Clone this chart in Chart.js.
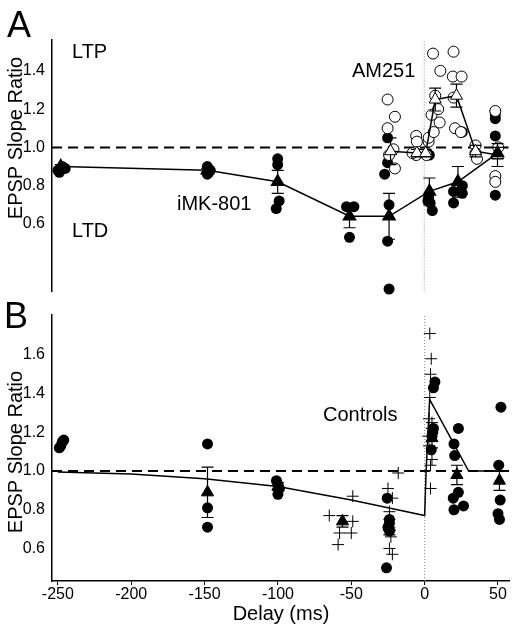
<!DOCTYPE html>
<html><head><meta charset="utf-8">
<script src="https://cdn.jsdelivr.net/npm/chart.js@4/dist/chart.umd.min.js"></script>
<style>
html,body{margin:0;padding:0;background:#fff;}
#wrap{position:relative;width:517px;height:631px;overflow:hidden;background:#fff;}
canvas{position:absolute;left:0;}
#ca{top:0;} #cb{top:300px;}
</style></head><body>
<div id="wrap"><canvas id="ca" width="517" height="300"></canvas><canvas id="cb" width="517" height="331"></canvas></div>
<script>
// ---------- tick labels ----------
const xTicks = [-250, -200, -150, -100, -50, 0, 50];
const yTicksA = [0.6, 0.8, 1.0, 1.2, 1.4];
const yTicksB = [0.6, 0.8, 1.0, 1.2, 1.4, 1.6];

// ---------- Panel A: iMK-801 (filled) ----------
const aFilledX = [-250,-247,-245,-249, -148,-147,-148,-146, -100,-100,-99,-101, -53,-48,-51, -25,-25,-27,-24,-25,-24, 3,4,5.5,2.5,3.5, 20,26,26,20, 26, 48.5,48.5,48.5,48.5];
const aFilledY = [0.88,0.90,0.89,0.87, 0.90,0.87,0.86,0.88, 0.94,0.91,0.72,0.68, 0.69,0.69,0.53, 1.05,0.92,0.86,0.70,0.51,0.26, 0.74,0.71,0.67,0.72,0.96, 0.77,0.80,0.76,0.71, 1.08, 1.17,1.15,1.06,0.75];
const aMkX = [-248, -148, -100, -51, -24, 3.5, 23, 50];
const aMkY = [0.90, 0.88, 0.82, 0.64, 0.64, 0.77, 0.82, 0.97];
const aMkErr = [0.01, 0.01, 0.06, 0.06, 0.12, 0.07, 0.08, 0.03];

// ---------- Panel A: AM251 (open) ----------
const aOpenX = [-25,-20,-25,-21,-24,-20, -5.5,-5,-5.5,-8, 1.5,3,3,6.5,5,10.5,9.5,7.5,6,11, 20,19.5,25.5,20,21,25, 35,35,36, 48.5,50.5,48.5,48.5];
const aOpenY = [1.25,1.16,1.10,0.99,0.96,0.89, 1.06,1.03,0.96,0.97, 0.96,1.03,1.05,1.08,1.17,1.13,1.20,1.27,1.49,1.40, 1.50,1.37,1.37,1.26,1.10,1.08, 1.01,0.97,0.94, 1.19,1.00,0.85,0.82];
const aAmX = [-23, -5, 1, 7.5, 22, 35, 50];
const aAmY = [0.98, 0.97, 0.97, 1.25, 1.27, 0.98, 0.96];
const aAmErr = [0.07, 0.02, 0.02, 0.06, 0.06, 0.03, 0.06];

// ---------- Panel B: Controls ----------
const bFilledX = [-249,-247,-248,-246, -148,-148,-148, -101,-100,-99,-100, -25.5,-24,-24,-25,-24,-26, 7,6,5.5,5,4.5,6, 23,20,20.5,23,19.5,26.5,20, 52,50.5,51.5,50,51];
const bFilledY = [1.12,1.15,1.13,1.16, 1.14,0.81,0.71, 0.95,0.93,0.91,0.88, 0.86,0.75,0.73,0.71,0.69,0.50, 1.46,1.43,1.20,1.18,1.11,1.22, 1.22,1.14,1.08,0.89,0.86,0.82,0.80, 1.33,1.03,0.85,0.78,0.75];
const bCrossX = [-65,-49,-49,-50,-58,-59, -25,-22,-18,-24,-24,-23,-24,-22, 3.5,4.5,4,3.5,3,5,3,5,4,4,2.5];
const bCrossY = [0.77,0.87,0.74,0.68,0.68,0.62, 0.91,0.86,0.99,0.79,0.71,0.66,0.60,0.57, 1.71,1.58,1.50,1.38,1.27,1.25,1.13,1.06,1.03,0.91,1.18];
const bMeanX = [-148, -100, -56, -24, 5, 22, 51];
const bMeanY = [0.89, 0.92, 0.74, 0.71, 1.17, 0.98, 0.95];
const bMeanErr = [0.13, 0.02, 0.03, 0.04, 0.05, 0.05, 0.05];
const bFitX = [-250, -200, -150, -100, -50, -25, 0, 1, 3.4, 30, 57.5];
const bFitY = [0.995, 0.985, 0.96, 0.92, 0.85, 0.81, 0.77, 1.0, 1.37, 1.0, 1.0];

const X_MIN = -254, X_MAX = 57.5;
const FONT = "'Liberation Sans', Arial, Helvetica, sans-serif";
const pts = (xs, ys) => xs.map((x, i) => ({x: x, y: ys[i]}));

const errPlugin = {
  id: 'errbars',
  beforeDatasetDraw(chart, args) {
    const ds = chart.data.datasets[args.index];
    if (!ds.errors) return;
    const xs = chart.scales.x, ys = chart.scales.y, ctx = chart.ctx;
    ctx.save(); ctx.strokeStyle = '#000'; ctx.lineWidth = 1.2;
    ds.data.forEach((p, i) => {
      const e = ds.errors[i]; if (!e) return;
      const px = xs.getPixelForValue(p.x);
      const y1 = ys.getPixelForValue(p.y + e), y2 = ys.getPixelForValue(p.y - e);
      ctx.beginPath();
      ctx.moveTo(px, y1); ctx.lineTo(px, y2);
      ctx.moveTo(px - 6, y1); ctx.lineTo(px + 6, y1);
      ctx.moveTo(px - 6, y2); ctx.lineTo(px + 6, y2);
      ctx.stroke();
    });
    ctx.restore();
  }
};
const textPlugin = {
  id: 'texts',
  afterDraw(chart, args, opts) {
    const ctx = chart.ctx;
    for (const t of opts.items) {
      ctx.save();
      ctx.fillStyle = '#000';
      ctx.font = t.font;
      ctx.textAlign = t.align || 'left';
      ctx.textBaseline = 'alphabetic';
      ctx.translate(t.x, t.y);
      if (t.rot) ctx.rotate(t.rot);
      ctx.fillText(t.text, 0, 0);
      ctx.restore();
    }
  }
};

function refLines(yMin, yMax) {
  return [
    {type: 'line', data: [{x: X_MIN, y: 1}, {x: X_MAX, y: 1}], borderColor: '#000', borderWidth: 2,
     borderDash: [10, 6], pointRadius: 0, order: 20, clip: false},
    {type: 'line', data: [{x: 0, y: yMin}, {x: 0, y: yMax}], borderColor: '#8a8a8a', borderWidth: 1,
     borderDash: [1, 2], pointRadius: 0, order: 21}
  ];
}
function scales(yMin, yMax, yTicks, showX) {
  return {
    x: {
      type: 'linear', min: X_MIN, max: X_MAX, display: showX,
      afterBuildTicks: s => { s.ticks = xTicks.map(v => ({value: v})); },
      afterFit: s => { s.height = showX ? 50 : 0; s.paddingLeft = 0; s.paddingRight = 0; },
      grid: {display: true, drawOnChartArea: false, drawTicks: true, tickLength: 4, color: '#000', lineWidth: 1},
      border: {display: true, color: '#000', width: 1.5},
      ticks: {color: '#000', font: {family: FONT, size: 16}, padding: 0, maxRotation: 0, autoSkip: false,
              callback: v => String(v)}
    },
    y: {
      type: 'linear', min: yMin, max: yMax,
      afterBuildTicks: s => { s.ticks = yTicks.map(v => ({value: v})); },
      afterFit: s => { s.width = 52; s.paddingTop = 0; s.paddingBottom = 0; },
      grid: {display: false, drawTicks: false},
      border: {display: true, color: '#000', width: 1.5},
      ticks: {color: '#000', font: {family: FONT, size: 16}, padding: 7, autoSkip: false,
              callback: v => Number(v).toFixed(1)}
    }
  };
}
const common = {
  responsive: false, animation: false, devicePixelRatio: 1,
  plugins: {legend: {display: false}, tooltip: {enabled: false}}
};

// ---------- Chart A ----------
const A_MIN = 0.247, A_MAX = 1.561;
new Chart(document.getElementById('ca'), {
  type: 'scatter',
  data: {datasets: [
    {data: pts(aMkX, aMkY), errors: aMkErr, showLine: true, borderColor: '#000', borderWidth: 1.5,
     pointStyle: 'triangle', pointRadius: 7, pointBackgroundColor: '#000', pointBorderColor: '#000', order: 1, clip: false},
    {data: pts(aAmX, aAmY), errors: aAmErr, showLine: true, borderColor: '#000', borderWidth: 1.5,
     pointStyle: 'triangle', pointRadius: 7, pointBackgroundColor: '#fff', pointBorderColor: '#000', pointBorderWidth: 1, order: 2, clip: false},
    {data: pts(aOpenX, aOpenY), pointStyle: 'circle', pointRadius: 5.5, backgroundColor: '#fff', borderColor: '#000', borderWidth: 1, order: 4, clip: false},
    {data: pts(aFilledX, aFilledY), pointStyle: 'circle', pointRadius: 5.5, backgroundColor: '#000', borderColor: '#000', borderWidth: 0, order: 5, clip: false},
    ...refLines(A_MIN, A_MAX)
  ]},
  options: Object.assign({}, common, {
    layout: {padding: {top: 40, right: 4, bottom: 7, left: 0}},
    scales: scales(A_MIN, A_MAX, yTicksA, false),
    plugins: Object.assign({}, common.plugins, {texts: {items: [
      {text: 'A', x: 7, y: 37, font: '36px ' + FONT},
      {text: 'LTP', x: 72, y: 58, font: '20px ' + FONT},
      {text: 'LTD', x: 72, y: 237, font: '20px ' + FONT},
      {text: 'iMK-801', x: 177, y: 210, font: '20px ' + FONT},
      {text: 'AM251', x: 352, y: 77, font: '20px ' + FONT},
      {text: 'EPSP Slope Ratio', x: 22, y: 138, rot: -Math.PI / 2, align: 'center', font: '20px ' + FONT}
    ]}})
  }),
  plugins: [errPlugin, textPlugin]
});

// ---------- Chart B ----------
const B_MIN = 0.432, B_MAX = 1.806;
new Chart(document.getElementById('cb'), {
  type: 'scatter',
  data: {datasets: [
    {data: pts(bMeanX, bMeanY), errors: bMeanErr, showLine: false,
     pointStyle: 'triangle', pointRadius: 7, pointBackgroundColor: '#000', pointBorderColor: '#000', order: 1, clip: false},
    {type: 'line', data: pts(bFitX, bFitY), borderColor: '#000', borderWidth: 1.5, pointRadius: 0, order: 3, clip: false},
    {data: pts(bFilledX, bFilledY), pointStyle: 'circle', pointRadius: 5.5, backgroundColor: '#000', borderColor: '#000', borderWidth: 0, order: 5, clip: false},
    {data: pts(bCrossX, bCrossY), pointStyle: 'cross', pointRadius: 6, borderColor: '#000', borderWidth: 1, order: 6, clip: false},
    ...refLines(B_MIN, B_MAX)
  ]},
  options: Object.assign({}, common, {
    layout: {padding: {top: 15, right: 4, bottom: 0, left: 0}},
    scales: scales(B_MIN, B_MAX, yTicksB, true),
    plugins: Object.assign({}, common.plugins, {texts: {items: [
      {text: 'B', x: 4, y: 28, font: '36px ' + FONT},
      {text: 'Controls', x: 323, y: 121, font: '20px ' + FONT},
      {text: 'EPSP Slope Ratio', x: 22, y: 152, rot: -Math.PI / 2, align: 'center', font: '20px ' + FONT},
      {text: 'Delay (ms)', x: 281, y: 320, align: 'center', font: '20px ' + FONT}
    ]}})
  }),
  plugins: [errPlugin, textPlugin]
});
</script>
</body></html>
